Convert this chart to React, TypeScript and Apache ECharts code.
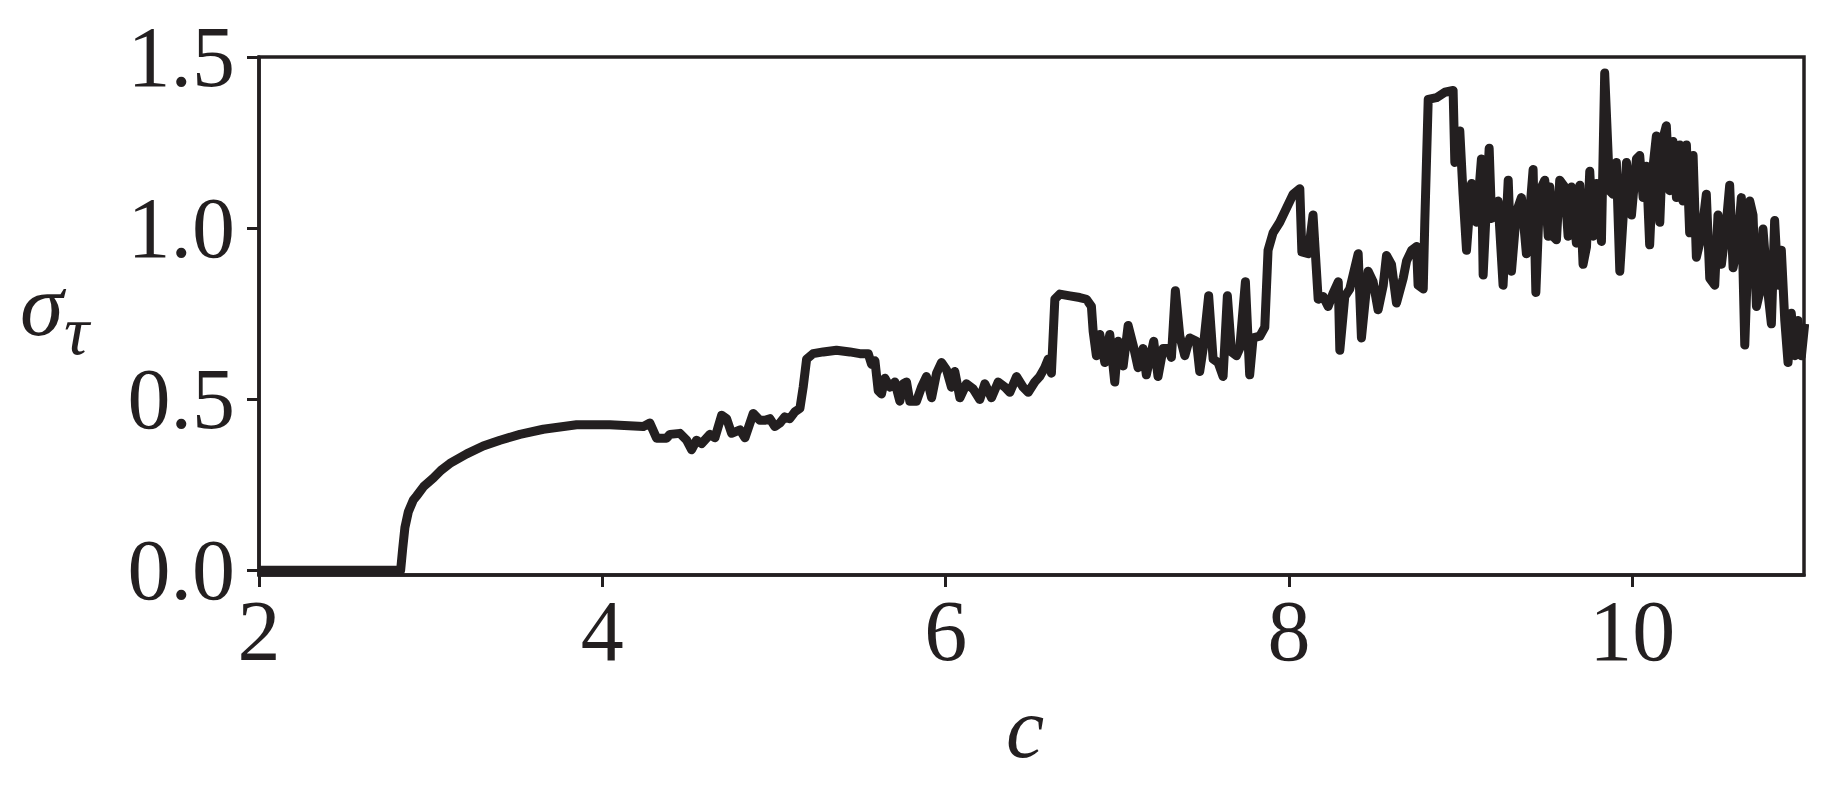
import React, { useEffect, useRef } from "react";
import * as echarts from "echarts";

// c values (x)
const cValues: number[] = [
  2.0, 2.825, 2.837, 2.85, 2.87, 2.899, 2.918, 2.96, 3.015, 3.06, 3.112, 3.21, 3.306, 3.404, 3.52, 3.656, 3.85,
  4.044, 4.239, 4.277, 4.316, 4.374, 4.394, 4.452, 4.491, 4.52, 4.549, 4.578, 4.627, 4.656, 4.695, 4.724, 4.753,
  4.802, 4.831, 4.879, 4.918, 4.947, 4.976, 5.005, 5.034, 5.063, 5.092, 5.122, 5.151, 5.17, 5.19, 5.228, 5.287,
  5.364, 5.442, 5.5, 5.549, 5.568, 5.588, 5.607, 5.626, 5.646, 5.675, 5.704, 5.733, 5.753, 5.772, 5.791, 5.83,
  5.859, 5.888, 5.918, 5.947, 5.976, 6.005, 6.034, 6.053, 6.083, 6.121, 6.16, 6.199, 6.228, 6.267, 6.306, 6.345,
  6.374, 6.413, 6.451, 6.481, 6.519, 6.548, 6.577, 6.597, 6.616, 6.636, 6.665, 6.723, 6.781, 6.82, 6.849, 6.859,
  6.878, 6.898, 6.927, 6.956, 6.985, 7.004, 7.034, 7.063, 7.092, 7.121, 7.15, 7.169, 7.212, 7.237, 7.267, 7.296,
  7.315, 7.338, 7.364, 7.393, 7.422, 7.461, 7.48, 7.5, 7.532, 7.558, 7.587, 7.616, 7.641, 7.665, 7.694, 7.713,
  7.746, 7.771, 7.791, 7.83, 7.859, 7.878, 7.907, 7.946, 7.985, 8.024, 8.063, 8.075, 8.112, 8.14, 8.17, 8.199,
  8.228, 8.257, 8.287, 8.296, 8.325, 8.354, 8.403, 8.422, 8.461, 8.49, 8.519, 8.549, 8.568, 8.597, 8.626, 8.665,
  8.685, 8.714, 8.743, 8.752, 8.782, 8.791, 8.811, 8.859, 8.908, 8.956, 8.966, 8.995, 9.014, 9.034, 9.063, 9.092,
  9.121, 9.131, 9.166, 9.18, 9.218, 9.247, 9.277, 9.296, 9.325, 9.354, 9.383, 9.422, 9.438, 9.461, 9.49, 9.51,
  9.519, 9.538, 9.558, 9.577, 9.606, 9.626, 9.645, 9.655, 9.674, 9.694, 9.713, 9.733, 9.752, 9.771, 9.791, 9.82,
  9.839, 9.868, 9.888, 9.907, 9.927, 9.946, 9.966, 9.995, 10.024, 10.043, 10.063, 10.082, 10.101, 10.121, 10.14,
  10.16, 10.179, 10.198, 10.218, 10.237, 10.257, 10.276, 10.295, 10.315, 10.334, 10.354, 10.373, 10.402, 10.431,
  10.451, 10.48, 10.499, 10.519, 10.548, 10.567, 10.587, 10.616, 10.635, 10.655, 10.684, 10.703, 10.723, 10.742,
  10.761, 10.79, 10.81, 10.829, 10.849, 10.868, 10.888, 10.907, 10.926, 10.946, 10.965, 10.985, 11.004,
];

// sigma_tau values (y)
const sigmaValues: number[] = [
  0, 0, 0.063, 0.125, 0.171, 0.205, 0.217, 0.245, 0.269, 0.292, 0.312, 0.34, 0.363, 0.38, 0.397, 0.412, 0.425,
  0.425, 0.42, 0.43, 0.386, 0.386, 0.397, 0.4, 0.38, 0.352, 0.38, 0.37, 0.397, 0.387, 0.453, 0.443, 0.4,
  0.41, 0.387, 0.458, 0.438, 0.438, 0.443, 0.42, 0.43, 0.448, 0.443, 0.463, 0.473, 0.535, 0.617, 0.633, 0.638,
  0.643, 0.638, 0.633, 0.633, 0.602, 0.612, 0.525, 0.515, 0.561, 0.535, 0.55, 0.494, 0.545, 0.55, 0.494, 0.494,
  0.535, 0.566, 0.504, 0.576, 0.607, 0.586, 0.535, 0.581, 0.504, 0.545, 0.53, 0.499, 0.545, 0.504, 0.55, 0.535,
  0.52, 0.566, 0.535, 0.52, 0.55, 0.566, 0.592, 0.617, 0.576, 0.792, 0.807, 0.802, 0.797, 0.792, 0.771, 0.699,
  0.627, 0.689, 0.607, 0.689, 0.55, 0.669, 0.597, 0.715, 0.658, 0.592, 0.648, 0.571, 0.669, 0.566, 0.648, 0.648,
  0.622, 0.817, 0.684, 0.627, 0.679, 0.669, 0.581, 0.648, 0.802, 0.617, 0.607, 0.566, 0.802, 0.638, 0.627, 0.648,
  0.843, 0.571, 0.679, 0.684, 0.71, 0.935, 0.986, 1.017, 1.058, 1.099, 1.115, 0.93, 0.925, 1.038, 0.792, 0.8,
  0.771, 0.81, 0.843, 0.643, 0.8, 0.822, 0.925, 0.679, 0.874, 0.843, 0.761, 0.833, 0.92, 0.894, 0.781, 0.853,
  0.904, 0.935, 0.946, 0.833, 0.822, 1.017, 1.376, 1.381, 1.397, 1.402, 1.192, 1.284, 1.099, 0.935, 1.13, 1.017,
  1.202, 0.863, 1.233, 1.028, 1.079, 0.833, 1.14, 0.874, 1.048, 1.089, 0.925, 1.171, 0.812, 1.109, 1.14, 0.976,
  1.12, 0.976, 0.966, 1.14, 1.12, 0.976, 1.12, 1.068, 0.956, 1.125, 0.894, 0.945, 1.166, 0.976, 1.13, 0.961,
  1.453, 1.109, 1.099, 1.192, 0.874, 1.028, 1.192, 1.038, 1.202, 1.212, 1.089, 1.181, 0.951, 1.181, 1.269,
  1.017, 1.263, 1.299, 1.109, 1.253, 1.089, 1.243, 1.079, 1.243, 0.986, 1.212, 0.915, 0.976, 1.099,
  0.853, 0.833, 1.038, 0.894, 1.017, 1.125, 0.884, 0.966, 1.089, 0.658, 1.079, 1.038, 0.771, 0.812,
  0.997, 0.812, 0.72, 1.022, 0.833, 0.935, 0.73, 0.607, 0.751, 0.627, 0.73, 0.627, 0.72,
];

const xTickValues = [2, 4, 6, 8, 10];
const yTickValues = [0, 0.5, 1.0, 1.5];

export default function App() {
  const ref = useRef<HTMLDivElement>(null);

  useEffect(() => {
    if (!ref.current) return;
    const chart = echarts.init(ref.current, null, { renderer: "svg" });
    const ink = "#231f20";
    const font = "'Liberation Serif', 'DejaVu Serif', serif";

    chart.setOption({
      animation: false,
      backgroundColor: "#ffffff",
      grid: {
        left: 259,
        right: 30,
        top: 57,
        bottom: 211,
        show: true,
        borderColor: ink,
        borderWidth: 3.5,
        backgroundColor: "transparent",
        outerBoundsMode: "none",
      },
      xAxis: {
        type: "value",
        min: 2,
        max: 11,
        interval: 2,
        axisLine: { show: true, onZero: false, lineStyle: { color: ink, width: 3.5 } },
        axisTick: {
          show: true,
          inside: false,
          length: 12,
          customValues: xTickValues,
          lineStyle: { color: ink, width: 3 },
        },
        axisLabel: {
          customValues: xTickValues,
          color: ink,
          fontFamily: font,
          fontSize: 86,
          margin: 13,
        },
        splitLine: { show: false },
      },
      yAxis: {
        type: "value",
        min: -0.014,
        max: 1.5,
        axisLine: { show: true, onZero: false, lineStyle: { color: ink, width: 3.5 } },
        axisTick: {
          show: true,
          inside: false,
          length: 12,
          customValues: yTickValues,
          lineStyle: { color: ink, width: 3 },
        },
        axisLabel: {
          customValues: yTickValues,
          formatter: (v: number) => v.toFixed(1),
          color: ink,
          fontFamily: font,
          fontSize: 86,
          margin: 24,
        },
        splitLine: { show: false },
      },
      series: [
        {
          type: "line",
          data: cValues.map((c, i) => [c, sigmaValues[i]]),
          showSymbol: false,
          symbol: "none",
          clip: true,
          lineStyle: { color: ink, width: 9, join: "round", cap: "butt" },
        },
      ],
      graphic: [
        {
          type: "text",
          x: 20,
          y: 305,
          style: {
            text: "σ",
            font: `italic 88px ${font}`,
            fill: ink,
            align: "left",
            verticalAlign: "middle",
          },
        },
        {
          type: "text",
          x: 64,
          y: 330,
          style: {
            text: "τ",
            font: `italic 70px ${font}`,
            fill: ink,
            align: "left",
            verticalAlign: "middle",
          },
        },
        {
          type: "text",
          x: 1025,
          y: 728,
          style: {
            text: "c",
            font: `italic 86px ${font}`,
            fill: ink,
            align: "center",
            verticalAlign: "middle",
          },
        },
      ],
    });

    return () => chart.dispose();
  }, []);

  return (
    <div
      ref={ref}
      style={{ position: "fixed", left: 0, top: 0, width: 1834, height: 786, background: "#ffffff" }}
    />
  );
}
